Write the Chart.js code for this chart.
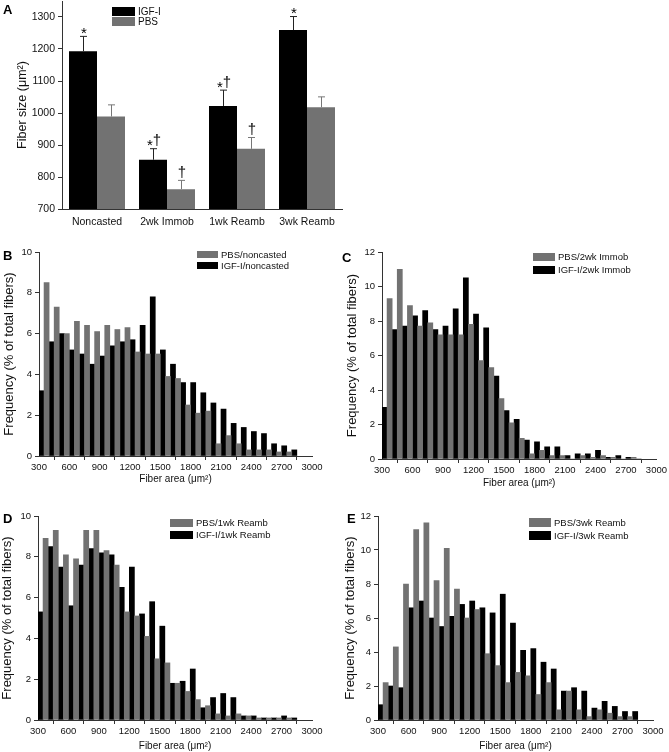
<!DOCTYPE html>
<html>
<head>
<meta charset="utf-8">
<title>Fiber size</title>
<script src="https://cdn.jsdelivr.net/npm/chart.js@4.4.0/dist/chart.umd.min.js"></script>
<style>
  body { margin: 0; background: #fff; }
  #wrap { position: relative; width: 669px; height: 752px; overflow: hidden; }
  #wrap canvas { position: absolute; }
  .tag { position: absolute; font: bold 13px "Liberation Sans", Arial, sans-serif; color: #000; }
</style>
</head>
<body>
<div id="wrap">
  <canvas id="chartA" width="345" height="240" style="left:0;top:0"></canvas>
  <canvas id="chartB" width="330" height="250" style="left:0;top:240px"></canvas>
  <canvas id="chartC" width="339" height="250" style="left:330px;top:240px"></canvas>
  <canvas id="chartD" width="330" height="262" style="left:0;top:490px"></canvas>
  <canvas id="chartE" width="339" height="262" style="left:330px;top:490px"></canvas>
  <div class="tag" style="left:3px;top:2px">A</div>
  <div class="tag" style="left:3px;top:248px">B</div>
  <div class="tag" style="left:342px;top:250px">C</div>
  <div class="tag" style="left:3px;top:511px">D</div>
  <div class="tag" style="left:347px;top:511px">E</div>
</div>
<script>
// ********** DATA: panel A (mean fiber size) **********
let groups = ['Noncasted', '2wk Immob', '1wk Reamb', '3wk Reamb'];
let igfMean = [1193, 854, 1022, 1259];
let igfErr = [48, 36, 51, 44];
let pbsMean = [989, 762, 888, 1018];
let pbsErr = [38, 29, 37, 34];
let igfMarks = ['*', '*†', '*†', '*'];
let pbsMarks = ['', '†', '†', ''];
let sizeTicks = [700, 800, 900, 1000, 1100, 1200, 1300];

// ********** DATA: histograms B-E **********
let binCenters = [300, 400, 500, 600, 700, 800, 900, 1000, 1100, 1200, 1300, 1400, 1500,
  1600, 1700, 1800, 1900, 2000, 2100, 2200, 2300, 2400, 2500, 2600, 2700, 2800];
let areaTicks = [300, 600, 900, 1200, 1500, 1800, 2100, 2400, 2700, 3000];
let freqTicks10 = [0, 2, 4, 6, 8, 10];
let freqTicks12 = [0, 2, 4, 6, 8, 10, 12];

let pbsNoncast = [null, 8.5, 7.3, 6.0, 6.6, 6.4, 6.1, 6.4, 6.2, 6.3, 5.1, 5.0, 5.0,
  3.9, 3.8, 2.5, 2.1, 2.2, 0.6, 1.0, 0.6, 0.3, 0.3, 0.3, 0.2, 0.2];
let igfNoncast = [3.2, 5.6, 6.0, 5.2, 5.0, 4.5, 4.9, 5.4, 5.6, 5.7, 6.4, 7.8, 5.2,
  4.5, 3.6, 3.6, 3.1, 2.6, 2.3, 1.6, 1.4, 1.2, 1.1, 0.6, 0.5, 0.3];

let pbs2wk = [null, 9.3, 11.0, 8.9, 7.7, 7.9, 7.2, 7.2, 7.2, 7.8, 5.7, 5.3, 3.5,
  2.1, 1.2, 0.3, 0.5, 0.2, 0.2, 0.0, 0.2, 0.1, 0.2, 0.1, 0.0, 0.1];
let igf2wk = [3.0, 7.5, 7.7, 8.3, 8.6, 7.5, 7.7, 8.7, 10.5, 8.4, 7.6, 4.8, 2.8,
  2.3, 1.1, 1.0, 0.7, 0.7, 0.2, 0.3, 0.3, 0.5, 0.1, 0.2, 0.1, 0.0];

let pbs1wk = [null, 8.9, 9.3, 8.1, 7.9, 9.3, 9.3, 8.3, 7.6, 5.3, 5.1, 4.1, 3.0,
  2.8, 1.8, 1.4, 1.0, 0.7, 0.3, 0.2, 0.3, 0.2, 0.1, 0.1, 0.1, 0.1];
let igf1wk = [5.3, 8.5, 7.5, 5.6, 7.6, 8.4, 8.2, 8.1, 6.5, 7.5, 5.2, 5.8, 4.6,
  1.8, 1.9, 2.5, 0.6, 1.1, 1.3, 1.1, 0.2, 0.2, 0.1, 0.1, 0.2, 0.1];

let pbs3wk = [null, 2.2, 4.3, 8.0, 11.2, 11.6, 8.2, 10.1, 7.7, 6.0, 6.5, 3.9, 3.2,
  2.2, 2.8, 2.6, 1.5, 2.2, 0.6, 1.7, 0.6, 0.2, 0.6, 0.4, 0.2, 0.2];
let igf3wk = [0.9, 2.0, 1.9, 6.6, 7.0, 6.0, 5.5, 6.1, 6.8, 7.0, 6.6, 6.3, 7.4,
  5.7, 4.1, 4.2, 3.4, 3.0, 1.7, 1.9, 1.7, 0.7, 1.1, 0.8, 0.5, 0.5];

// ********** STYLE **********
const FONT = '"Liberation Sans", Arial, Helvetica, sans-serif';
const GRAY = '#727272';
const AXIS = '#333';
Chart.defaults.font.family = FONT;
Chart.defaults.color = '#111';
Chart.defaults.animation = false;

// plain numbers, no thousands comma
const plain = v => String(v);

// ********** PLUGINS **********
// little legend boxes at fixed spots, one row per dataset
const boxLegend = {
  id: 'boxLegend',
  afterDraw(chart, args, opts) {
    const ctx = chart.ctx;
    ctx.save();
    ctx.font = opts.size + 'px ' + FONT;
    ctx.textBaseline = 'middle';
    chart.data.datasets.forEach((ds, i) => {
      const y = opts.y + i * opts.step;
      ctx.fillStyle = ds.backgroundColor;
      ctx.fillRect(opts.x, y, opts.w, opts.h);
      ctx.fillStyle = '#111';
      ctx.fillText(ds.label, opts.x + opts.w + 3, y + opts.h / 2 + 0.5);
    });
    ctx.restore();
  }
};

// upper error bars + significance marks for panel A
const errBars = {
  id: 'errBars',
  afterDatasetsDraw(chart) {
    const ctx = chart.ctx;
    const yScale = chart.scales.y;
    ctx.save();
    chart.data.datasets.forEach((ds, di) => {
      const meta = chart.getDatasetMeta(di);
      meta.data.forEach((bar, i) => {
        const top = yScale.getPixelForValue(ds.data[i] + ds.errors[i]);
        ctx.strokeStyle = ds.errColor;
        ctx.lineWidth = 1;
        ctx.beginPath();
        ctx.moveTo(bar.x + 0.5, bar.y);
        ctx.lineTo(bar.x + 0.5, top + 0.5);
        ctx.moveTo(bar.x - 3, top + 0.5);
        ctx.lineTo(bar.x + 4, top + 0.5);
        ctx.stroke();
        // marks: '*' sits low, '†' stands a bit above the cap
        const txt = ds.marks[i];
        if (!txt) return;
        ctx.fillStyle = '#000';
        ctx.font = '15px ' + FONT;
        ctx.textAlign = 'left';
        ctx.textBaseline = 'alphabetic';
        let w = 0;
        for (const ch of txt) w += ctx.measureText(ch).width;
        let x = bar.x + 1 - w / 2;
        for (const ch of txt) {
          ctx.fillText(ch, x, ch === '*' ? top + 2 : top - 3);
          x += ctx.measureText(ch).width;
        }
      });
    });
    ctx.restore();
  }
};

function axisStyle() {
  return {
    grid: { drawOnChartArea: false, drawTicks: true, tickLength: 4, color: AXIS },
    border: { color: AXIS, width: 1 }
  };
}

// ********** PANEL A **********
new Chart(document.getElementById('chartA'), {
  type: 'bar',
  data: {
    labels: groups,
    datasets: [
      { label: 'IGF-I', data: igfMean, errors: igfErr, marks: igfMarks, errColor: '#222',
        backgroundColor: '#000', borderColor: '#000', borderWidth: 0 },
      { label: 'PBS', data: pbsMean, errors: pbsErr, marks: pbsMarks, errColor: '#777',
        backgroundColor: GRAY, borderColor: GRAY, borderWidth: 0 }
    ]
  },
  options: {
    responsive: false,
    events: [],
    layout: { padding: { top: 1, right: 3, left: 0, bottom: 0 } },
    datasets: { bar: { categoryPercentage: 0.8, barPercentage: 1 } },
    plugins: {
      legend: { display: false },
      tooltip: { enabled: false },
      boxLegend: { x: 112, y: 7, w: 23, h: 9, step: 10, size: 10 }
    },
    scales: {
      x: Object.assign(axisStyle(), {
        grid: { drawOnChartArea: false, drawTicks: false, color: AXIS },
        ticks: { font: { size: 10.5 }, padding: 7, color: '#111' },
        afterFit: s => { s.height = 31; }
      }),
      y: Object.assign(axisStyle(), {
        min: 700, max: 1350,
        ticks: { font: { size: 10.5 }, padding: 3, includeBounds: false, color: '#111', callback: plain },
        afterBuildTicks: s => { s.ticks = sizeTicks.map(v => ({ value: v })); },
        title: { display: true, text: 'Fiber size (μm²)', font: { size: 12.5 }, padding: { top: 15, bottom: 0 }, color: '#111' },
        afterFit: s => { s.width = 62; s.paddingTop = 0; }
      })
    }
  },
  plugins: [errBars, boxLegend]
});

// ********** HISTOGRAMS **********
function toPoints(vals) {
  return binCenters.map((c, i) => ({ x: c, y: vals[i] }));
}

function histChart(id, pbsLabel, pbsVals, igfLabel, igfVals, yTicks, lay) {
  return new Chart(document.getElementById(id), {
    type: 'bar',
    data: {
      datasets: [
        { label: pbsLabel, data: toPoints(pbsVals), backgroundColor: GRAY, borderWidth: 0 },
        { label: igfLabel, data: toPoints(igfVals), backgroundColor: '#000', borderWidth: 0 }
      ]
    },
    options: {
      responsive: false,
      events: [],
      layout: { padding: { top: lay.top, right: lay.right, left: 0, bottom: 0 } },
      datasets: { bar: { categoryPercentage: 1, barPercentage: 1 } },
      plugins: {
        legend: { display: false },
        tooltip: { enabled: false },
        boxLegend: lay.legend
      },
      scales: {
        x: Object.assign(axisStyle(), {
          type: 'linear', min: 300, max: 3000, offset: false,
          ticks: { font: { size: 9.5 }, padding: 2, maxRotation: 0, color: '#111', callback: plain },
          afterBuildTicks: s => { s.ticks = areaTicks.map(v => ({ value: v })); },
          title: { display: true, text: 'Fiber area (μm²)', font: { size: 10 }, padding: { top: 0, bottom: lay.xTitlePad }, color: '#111' },
          afterFit: s => { s.height = lay.xh; }
        }),
        y: Object.assign(axisStyle(), {
          min: 0, max: yTicks[yTicks.length - 1],
          ticks: { font: { size: 9.5 }, padding: 3, color: '#111', callback: plain },
          afterBuildTicks: s => { s.ticks = yTicks.map(v => ({ value: v })); },
          title: { display: true, text: 'Frequency (% of total fibers)', font: { size: 13 }, padding: { top: lay.yTitlePad, bottom: 0 }, color: '#111' },
          afterFit: s => { s.width = lay.yw; }
        })
      }
    },
    plugins: [boxLegend]
  });
}

histChart('chartB', 'PBS/noncasted', pbsNoncast, 'IGF-I/noncasted', igfNoncast, freqTicks10,
  { top: 12, right: 18, yw: 39, xh: 34, xTitlePad: 5, yTitlePad: 2,
    legend: { x: 197, y: 11, w: 21, h: 7, step: 11, size: 9.5 } });

histChart('chartC', 'PBS/2wk Immob', pbs2wk, 'IGF-I/2wk Immob', igf2wk, freqTicks12,
  { top: 12, right: 11, yw: 52, xh: 31, xTitlePad: 1, yTitlePad: 15,
    legend: { x: 203, y: 13, w: 22, h: 8, step: 13, size: 9.5 } });

histChart('chartD', 'PBS/1wk Reamb', pbs1wk, 'IGF-I/1wk Reamb', igf1wk, freqTicks10,
  { top: 26, right: 18, yw: 38, xh: 32, xTitlePad: 0, yTitlePad: 0,
    legend: { x: 170, y: 29, w: 23, h: 8, step: 12, size: 9.5 } });

histChart('chartE', 'PBS/3wk Reamb', pbs3wk, 'IGF-I/3wk Reamb', igf3wk, freqTicks12,
  { top: 26, right: 16, yw: 48, xh: 32, xTitlePad: 0, yTitlePad: 13,
    legend: { x: 199, y: 28, w: 22, h: 9, step: 13, size: 9.5 } });
</script>
</body>
</html>
